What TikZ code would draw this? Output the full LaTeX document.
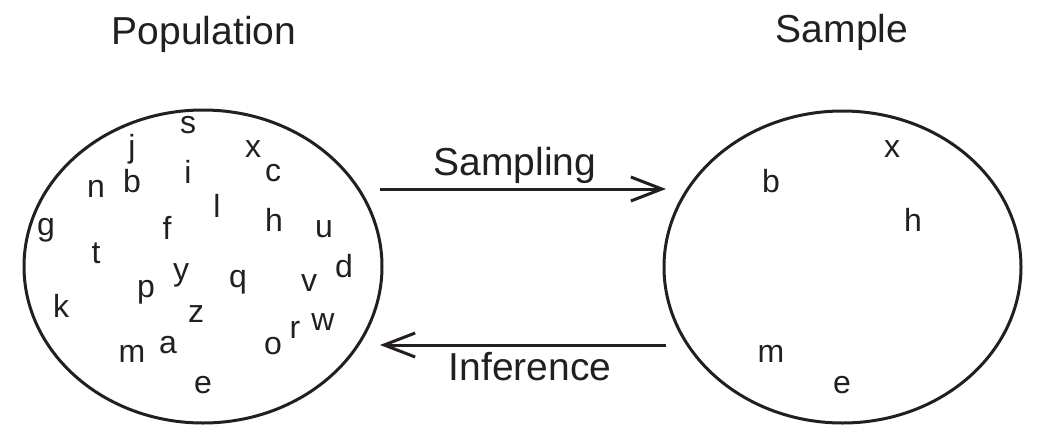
\documentclass[tikz,border=0pt]{standalone}
\usepackage{fontspec}
\setmainfont{Liberation Sans}
\usetikzlibrary{shapes.geometric,arrows.meta}
\definecolor{ink}{HTML}{231F20}
\begin{document}
\begin{tikzpicture}[x=1pt,y=-1pt,
  lt/.style={anchor=base,inner sep=0pt,text=ink,font=\fontsize{32}{38}\selectfont},
  big/.style={anchor=base,inner sep=0pt,text=ink,font=\fontsize{39}{46}\selectfont},
  blob/.style={draw=ink,ellipse,line width=3pt,inner sep=0pt},
  flow/.style={draw=ink,line width=3pt,-{Straight Barb[length=31pt,width=24pt,line width=3pt]}}]
\useasboundingbox (0,0) rectangle (1037,426);
% titles
\node[big] (tpop) at (204,44) {Population};
\node[big] (tsam) at (842,42) {Sample};
% ellipses
\node[blob,minimum width=358pt,minimum height=313pt] (pop) at (203,266.5) {};
\node[blob,minimum width=357pt,minimum height=312pt] (sam) at (842.5,267) {};
% arrows
\coordinate (s1) at (380,189);
\coordinate (s2) at (666,189);
\coordinate (i1) at (666,345);
\coordinate (i2) at (380,345);
\draw[flow] (s1) -- (s2);
\draw[flow] (i1) -- (i2);
\node[big] (lsam) at (515,175) {Sampling};
\node[big] (linf) at (530,380) {Inference};
% population letters
\node[lt] (p-s) at (188,133) {s};
\node[lt] (p-j) at (132,157) {j};
\node[lt] (p-n) at (96,197) {n};
\node[lt] (p-b) at (132,192) {b};
\node[lt] (p-i) at (188,183) {i};
\node[lt] (p-x) at (253,157) {x};
\node[lt] (p-c) at (273,181) {c};
\node[lt] (p-l) at (217,217) {l};
\node[lt] (p-h) at (274,231) {h};
\node[lt] (p-u) at (324,237) {u};
\node[lt] (p-g) at (46,235) {g};
\node[lt] (p-f) at (167,239) {f};
\node[lt] (p-t) at (96,263) {t};
\node[lt] (p-d) at (344,277) {d};
\node[lt] (p-y) at (181,280) {y};
\node[lt] (p-p) at (146,297) {p};
\node[lt] (p-q) at (238,287) {q};
\node[lt] (p-v) at (309,291) {v};
\node[lt] (p-k) at (61,317) {k};
\node[lt] (p-z) at (196,322) {z};
\node[lt] (p-w) at (323,330) {w};
\node[lt] (p-r) at (295,338) {r};
\node[lt] (p-o) at (273,354) {o};
\node[lt] (p-a) at (168,353) {a};
\node[lt] (p-m) at (132,362) {m};
\node[lt] (p-e) at (203,393) {e};
% sample letters
\node[lt] (q-x) at (892,157) {x};
\node[lt] (q-b) at (771,192) {b};
\node[lt] (q-h) at (913,231) {h};
\node[lt] (q-m) at (771,362) {m};
\node[lt] (q-e) at (842,393) {e};
\end{tikzpicture}
\end{document}
